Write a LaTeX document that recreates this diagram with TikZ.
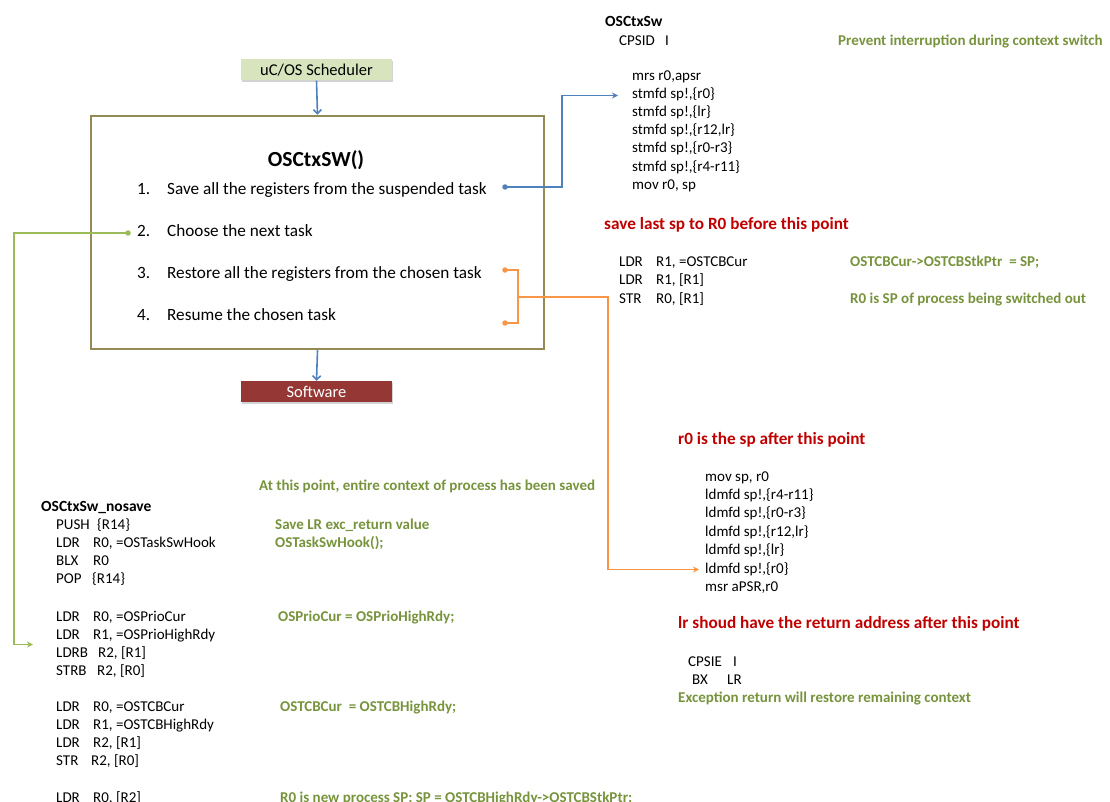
\documentclass[tikz,border=0pt]{standalone}
\usepackage{fontspec}
\setmainfont{Carlito}
\usetikzlibrary{arrows.meta,shadows,calc}
\definecolor{cmtgreen}{HTML}{77933C}
\definecolor{lngreen}{HTML}{9BBB59}
\definecolor{hdred}{HTML}{C00000}
\definecolor{lnblue}{HTML}{4F81BD}
\definecolor{lnorange}{HTML}{F79646}
\definecolor{boxolive}{HTML}{948A54}
\definecolor{schedfill}{HTML}{D7E4BD}
\definecolor{swfill}{HTML}{953735}
\newcommand{\mn}[2]{\makebox[#1][l]{#2}}
\begin{document}
\begin{tikzpicture}[x=1pt,y=-1pt,
  code/.style={anchor=west,inner sep=0pt,text height=10pt,text depth=3pt,yshift=-2.5pt,font=\fontsize{15}{17}\selectfont},
  cmt/.style={code,text=cmtgreen,font=\fontsize{15}{17}\selectfont\bfseries},
  hd/.style={anchor=west,inner sep=0pt,text height=11pt,text depth=3pt,yshift=-2.5pt,text=hdred,font=\fontsize{17.2}{19}\selectfont\bfseries},
  ttl/.style={anchor=west,inner sep=0pt,text height=11pt,text depth=3pt,yshift=-2.5pt,font=\fontsize{15.5}{17}\selectfont\bfseries},
  item/.style={anchor=west,inner sep=0pt,text height=11pt,text depth=3pt,yshift=-2.5pt,font=\fontsize{17.2}{19}\selectfont},
  tag/.style={minimum width=151pt,minimum height=21pt,inner sep=0pt,font=\fontsize{16.5}{18}\selectfont,
    drop shadow={shadow xshift=1pt,shadow yshift=-2pt,opacity=.35}},
  dot/.style={circle,inner sep=0pt,minimum size=5.5pt},
  conn/.style={line width=1.6pt},
  tip/.style={-{Stealth[length=6pt,width=6pt]}},
  vtip/.style={-{Straight Barb[length=4pt,width=8pt]}}
]
\useasboundingbox (0,0) rectangle (1110,802);

% ---------- left diagram ----------
\node[tag,fill=schedfill] (sched) at (316.5,70) {uC/OS Scheduler};
\node[draw=boxolive,line width=2.5pt,minimum width=453pt,minimum height=233pt,inner sep=0pt] (main) at (317.5,232.5) {};
\node[tag,fill=swfill,text=white] (sw) at (316.5,391.5) {Software};

\node[anchor=center,inner sep=0pt,font=\fontsize{21.5}{23}\selectfont\bfseries] (title) at (316,160) {OSCtxSW()};
\node[item] (i1) at (137,188) {\mn{30pt}{1.}Save all the registers from the suspended task};
\node[item] (i2) at (137,230) {\mn{30pt}{2.}Choose the next task};
\node[item] (i3) at (137,272) {\mn{30pt}{3.}Restore all the registers from the chosen task};
\node[item] (i4) at (137,314) {\mn{30pt}{4.}Resume the chosen task};

\draw[conn,lnblue,vtip] (sched.south) -- (main.north);
\draw[conn,lnblue,vtip] (main.south) -- (sw.north);

% ---------- OSCtxSw ----------
\node[ttl] (ctx) at (605,20) {OSCtxSw};
\node[code] (cpsid) at (619,40) {\mn{46pt}{CPSID}I};
\node[cmt] (c0) at (838,40) {Prevent interruption during context switch};
\node[code] (s0) at (632,75) {mrs r0,apsr};
\node[code] (s1) at (632,93) {stmfd sp!,\{r0\}};
\node[code] (s2) at (632,111) {stmfd sp!,\{lr\}};
\node[code] (s3) at (632,129) {stmfd sp!,\{r12,lr\}};
\node[code] (s4) at (632,147) {stmfd sp!,\{r0-r3\}};
\node[code] (s5) at (632,166) {stmfd sp!,\{r4-r11\}};
\node[code] (s6) at (632,184) {mov r0, sp};

\node[hd] (h1) at (604,223) {save last sp to R0 before this point};
\node[code] (l1) at (619,260) {\mn{37pt}{LDR}R1, =OSTCBCur};
\node[code] (l2) at (619,278) {\mn{37pt}{LDR}R1, [R1]};
\node[code] (l3) at (619,297) {\mn{37pt}{STR}R0, [R1]};
\node[cmt] (c1) at (850,260) {OSTCBCur->OSTCBStkPtr\ \ = SP;};
\node[cmt] (c2) at (850,297) {R0 is SP of process being switched out};

% ---------- restore ----------
\node[hd] (h2) at (678,438) {r0 is the sp after this point};
\node[code] (r0) at (705,475) {mov sp, r0};
\node[code] (r1) at (705,493) {ldmfd sp!,\{r4-r11\}};
\node[code] (r2) at (705,511) {ldmfd sp!,\{r0-r3\}};
\node[code] (r3) at (705,530) {ldmfd sp!,\{r12,lr\}};
\node[code] (r4) at (705,548) {ldmfd sp!,\{lr\}};
\node[code] (r5) at (705,567) {ldmfd sp!,\{r0\}};
\node[code] (r6) at (705,585) {msr aPSR,r0};
\node[hd] (h3) at (678,622) {lr shoud have the return address after this point};
\node[code] (e1) at (688,660) {\mn{45pt}{CPSIE}I};
\node[code] (e2) at (692,678) {\mn{35pt}{BX}LR};
\node[cmt] (c3) at (678,696) {Exception return will restore remaining context};

% ---------- nosave ----------
\node[cmt] (c4) at (259,484) {At this point, entire context of process has been saved};
\node[ttl] (ns) at (41,505) {OSCtxSw\_nosave};
\node[code] (n1) at (56,523) {\mn{41pt}{PUSH}\{R14\}};
\node[code] (n2) at (56,541) {\mn{37pt}{LDR}R0, =OSTaskSwHook};
\node[code] (n3) at (56,559) {\mn{37pt}{BLX}R0};
\node[code] (n4) at (56,577) {\mn{36pt}{POP}\{R14\}};
\node[code] (n5) at (56,615) {\mn{37pt}{LDR}R0, =OSPrioCur};
\node[code] (n6) at (56,633) {\mn{37pt}{LDR}R1, =OSPrioHighRdy};
\node[code] (n7) at (56,651) {\mn{42pt}{LDRB}R2, [R1]};
\node[code] (n8) at (56,669) {\mn{41pt}{STRB}R2, [R0]};
\node[code] (n9) at (56,705) {\mn{37pt}{LDR}R0, =OSTCBCur};
\node[code] (n10) at (56,723) {\mn{37pt}{LDR}R1, =OSTCBHighRdy};
\node[code] (n11) at (56,741) {\mn{37pt}{LDR}R2, [R1]};
\node[code] (n12) at (56,759) {\mn{35pt}{STR}R2, [R0]};
\node[code] (n13) at (56,796) {\mn{37pt}{LDR}R0, [R2]};
\node[cmt] (c5) at (275,523) {Save LR exc\_return value};
\node[cmt] (c6) at (275,541) {OSTaskSwHook();};
\node[cmt] (c7) at (278,615) {OSPrioCur = OSPrioHighRdy;};
\node[cmt] (c8) at (280,705) {OSTCBCur\ \ = OSTCBHighRdy;};
\node[cmt] (c9) at (280,796) {R0 is new process SP; SP = OSTCBHighRdy->OSTCBStkPtr;};

% ---------- connectors ----------
\node[dot,fill=lnblue] (d1) at (505,187) {};
\node[dot,fill=lngreen] (d2) at (128,233) {};
\node[dot,fill=lnorange] (d3) at (505,270) {};
\node[dot,fill=lnorange] (d4) at (505,323) {};

\draw[conn,lnblue,tip] (d1.center) -- ++(57,0) |- ([xshift=-14pt]s1.west);
\coordinate (gt) at ($(n6.west)!0.5!(n7.west)+(-23,0)$);
\draw[conn,lngreen,tip] (d2.center) -- (14,233) |- (gt);
\draw[conn,lnorange] (d3.center) -- ++(13,0) coordinate (bt) -- (bt |- d4) -- (d4.center);
\coordinate (bm) at (518,297);
\draw[conn,lnorange,tip] (bm) -- (608,297) |- ([xshift=-6pt]r5.west);
\end{tikzpicture}
\end{document}
